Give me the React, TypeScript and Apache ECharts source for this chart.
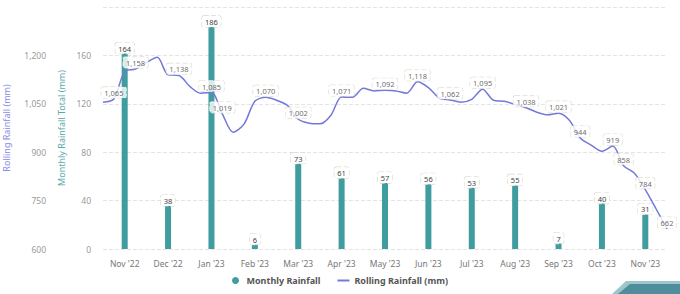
import React, { useEffect, useRef } from "react";
import * as echarts from "echarts";

const months = ["Nov '22", "Dec '22", "Jan '23", "Feb '23", "Mar '23", "Apr '23", "May '23", "Jun '23", "Jul '23", "Aug '23", "Sep '23", "Oct '23", "Nov '23"];
const monthlyRainfall = [164, 38, 186, 6, 73, 61, 57, 56, 53, 55, 7, 40, 31];
const rollingRainfall = [
  1055, 1065, 1150, 1158, 1178, 1194, 1140, 1138, 1104, 1083, 1085, 1019, 962, 987,
  1058, 1070, 1061, 1045, 1002, 990, 988, 1014, 1071, 1070, 1098, 1090, 1092, 1090,
  1083, 1118, 1100, 1068, 1062, 1055, 1064, 1095, 1061, 1058, 1048, 1038, 1024, 1016,
  1021, 999, 944, 922, 903, 919, 858, 835, 784, 724, 662,
];
const rollingLabelIdx = [1, 3, 7, 10, 11, 15, 18, 22, 26, 29, 32, 35, 39, 42, 44, 47, 48, 50, 52];
const monthlyTicks = [0, 200, 40];
const rollingTicks = [600, 1350, 150];

const FONT = "'Noto Sans', sans-serif";
const TEAL = "#3f9c9f";
const PURPLE = "#7478d8";

const labelBox = {
  show: true,
  fontSize: 7.5,
  fontFamily: FONT,
  color: "#444",
  backgroundColor: "#fff",
  borderColor: "#d8d8c8",
  borderWidth: 0.6,
  borderType: "dashed" as const,
  borderRadius: 2,
  padding: [2, 3, 1, 3],
};

export default function App() {
  const ref = useRef<HTMLDivElement>(null);
  useEffect(() => {
    if (!ref.current) return;
    const chart = echarts.init(ref.current, null, { renderer: "svg" });
    const fmt = (v: number) => v.toLocaleString("en-US");
    chart.setOption({
      animation: false,
      textStyle: { fontFamily: FONT },
      grid: { left: 103, right: 13, top: 7, bottom: 45, outerBoundsMode: "none", containLabel: false },
      legend: {
        bottom: 4,
        left: "center",
        itemGap: 16,
        itemWidth: 12,
        itemHeight: 7,
        textStyle: { fontSize: 9, fontWeight: "bold", color: "#555", fontFamily: FONT },
        data: [
          { name: "Monthly Rainfall", icon: "circle" },
          { name: "Rolling Rainfall (mm)", itemStyle: { opacity: 0 } },
        ],
      },
      xAxis: [
        {
          type: "category",
          data: months,
          boundaryGap: true,
          axisLine: { show: false },
          axisTick: { show: false },
          axisLabel: { fontSize: 8.5, color: "#777", margin: 10, fontFamily: FONT },
        },
        {
          type: "category",
          data: rollingRainfall.map((_, i) => String(i)),
          boundaryGap: false,
          show: false,
        },
      ],
      yAxis: [
        {
          type: "value",
          position: "left",
          min: monthlyTicks[0],
          max: monthlyTicks[1],
          interval: monthlyTicks[2],
          name: "Monthly Rainfall Total (mm)",
          nameLocation: "middle",
          nameRotate: 90,
          nameGap: 36,
          nameTextStyle: { color: "#5aa9ab", fontSize: 9, fontFamily: FONT },
          axisLine: { show: false },
          axisTick: { show: false },
          axisLabel: { fontSize: 8.5, color: "#999", margin: 12, showMaxLabel: false, fontFamily: FONT },
          splitLine: { show: true, lineStyle: { type: "dashed", color: "#e4e4e4" } },
        },
        {
          type: "value",
          position: "left",
          offset: 48,
          min: rollingTicks[0],
          max: rollingTicks[1],
          interval: rollingTicks[2],
          name: "Rolling Rainfall (mm)",
          nameLocation: "middle",
          nameRotate: 90,
          nameGap: 44,
          nameTextStyle: { color: "#8a8ae6", fontSize: 9, fontFamily: FONT },
          axisLine: { show: false },
          axisTick: { show: false },
          axisLabel: {
            fontSize: 8.5,
            color: "#999",
            margin: 9,
            showMaxLabel: false,
            fontFamily: FONT,
            formatter: (v: number) => fmt(v),
          },
          splitLine: { show: false },
        },
      ],
      series: [
        {
          name: "Monthly Rainfall",
          type: "bar",
          xAxisIndex: 0,
          yAxisIndex: 0,
          barWidth: 6,
          data: monthlyRainfall,
          itemStyle: { color: TEAL },
          label: { ...labelBox, position: "top", distance: 0, offset: [0, 3] },
          z: 2,
        },
        {
          name: "Rolling Rainfall (mm)",
          type: "line",
          xAxisIndex: 1,
          yAxisIndex: 1,
          symbol: "none",
          smooth: 0.3,
          lineStyle: { color: PURPLE, width: 1.5 },
          itemStyle: { color: PURPLE },
          data: rollingRainfall,
          z: 3,
        },
        {
          name: "Rolling labels",
          type: "scatter",
          xAxisIndex: 1,
          yAxisIndex: 1,
          symbolSize: 0,
          silent: true,
          data: rollingRainfall.map((v, i) => (rollingLabelIdx.includes(i) ? v : "-")),
          label: { ...labelBox, position: "top", distance: 1, formatter: (p: any) => fmt(p.value) },
          z: 4,
        },
      ],
      graphic: [
        {
          type: "polygon",
          shape: { points: [[626, 281], [680, 281], [680, 294], [612, 294]] },
          style: { fill: "#9cc6cc" },
          silent: true,
        },
        {
          type: "polygon",
          shape: { points: [[630, 284], [680, 284], [680, 294], [618, 294]] },
          style: { fill: "#4f8d9b" },
          silent: true,
        },
      ],
    });
    return () => chart.dispose();
  }, []);
  return <div ref={ref} style={{ width: 680, height: 294, position: "absolute", left: 0, top: 0 }} />;
}
